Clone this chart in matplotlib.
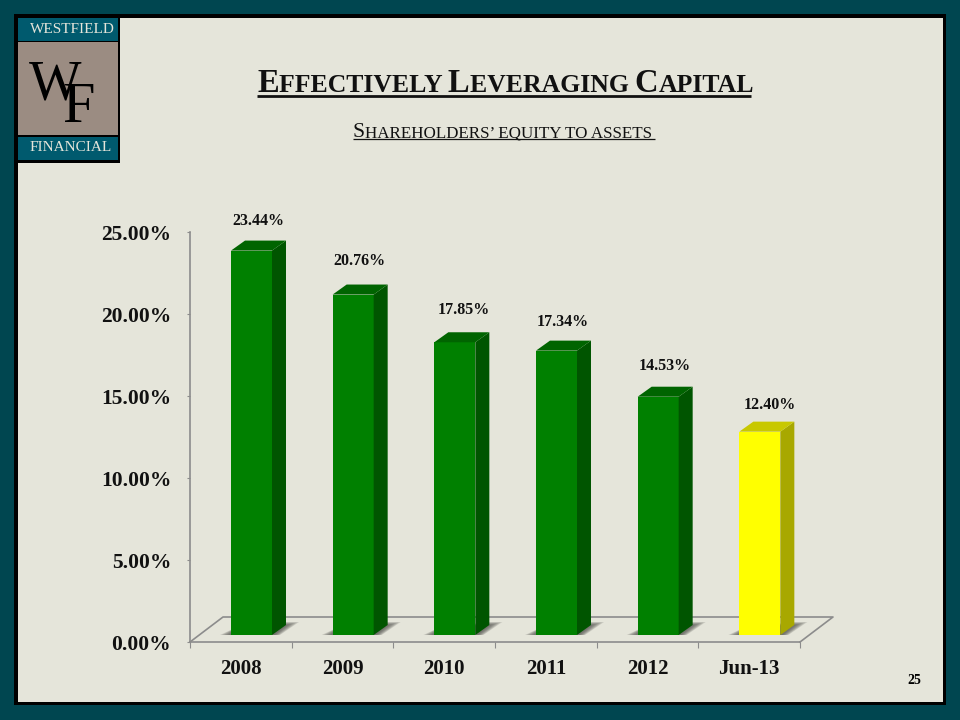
import matplotlib
matplotlib.use('Agg')
import matplotlib.pyplot as plt
from matplotlib.patches import Rectangle, Polygon

plt.rcParams['font.family'] = ['Liberation Serif', 'DejaVu Serif']

categories = ['2008', '2009', '2010', '2011', '2012', 'Jun-13']
values = [23.44, 20.76, 17.85, 17.34, 14.53, 12.40]
labels = ['23.44%', '20.76%', '17.85%', '17.34%', '14.53%', '12.40%']
ytick_vals = [0, 5, 10, 15, 20, 25]
ytick_labels = ['0.00%', '5.00%', '10.00%', '15.00%', '20.00%', '25.00%']

TEAL = '#004650'
PANEL = '#E5E5DA'
GREY = '#8C8C8C'

# pixels per data unit, the plot box is 610 x 410 px
PX = 610 / 6
PY = 410 / 25

fig = plt.figure(figsize=(9.6, 7.2), dpi=100, facecolor=TEAL)

# page furniture, in pixel coords
bg = fig.add_axes([0, 0, 1, 1])
bg.set_xlim(0, 960)
bg.set_ylim(720, 0)
bg.axis('off')
bg.add_patch(Rectangle((14, 14), 932, 691, fc='black', ec='none'))
bg.add_patch(Rectangle((18, 18), 925, 684, fc=PANEL, ec='none'))
bg.add_patch(Rectangle((14, 14), 106, 149, fc='black', ec='none'))
bg.add_patch(Rectangle((18, 18), 100, 23, fc='#005A6E', ec='none'))
bg.add_patch(Rectangle((18, 42), 100, 93, fc='#9B8C82', ec='none'))
bg.add_patch(Rectangle((18, 137), 100, 23, fc='#005A6E', ec='none'))
bg.text(72.5, 29.5, 'WESTFIELD', color='#E5E5DA', fontsize=11, ha='center', va='center')
bg.text(71, 147.5, 'FINANCIAL', color='#E5E5DA', fontsize=11, ha='center', va='center')
bg.text(55, 100, 'W', color='black', fontsize=40, ha='center', va='baseline')
bg.text(79, 122, 'F', color='black', fontsize=42, ha='center', va='baseline')
bg.text(914, 680, '25', fontsize=10, fontweight='bold', ha='center', va='center')


def small_caps(text, left, right, base, big, small, weight, lw, under):
    # fake small caps, one text per run, then underline the whole width
    r = fig.canvas.get_renderer()
    x = left
    runs = []
    cur = ''
    for c in text:
        if cur and c.isupper() != cur[-1].isupper():
            runs.append(cur)
            cur = ''
        cur += c
    runs.append(cur)
    for run in runs:
        up = run[0].isupper()
        t = bg.text(x, base, run.upper(), fontsize=big if up else small,
                    fontweight=weight, ha='left', va='baseline', color='#111111')
        x += t.get_window_extent(r).width
    bg.plot([left, right], [base + under, base + under], color='#111111', lw=lw, solid_capstyle='butt')


small_caps('Effectively Leveraging Capital', 257, 751, 92, 23.5, 18.5, 'bold', 2, 3.7)
small_caps('Shareholders\u2019 equity to assets', 353, 655, 137, 15.6, 12.25, 'normal', 0.9, 2.2)

# chart
ax = fig.add_axes([190 / 960, 1 - 642 / 720, 610 / 960, 410 / 720])
ax.patch.set_alpha(0)
ax.set_xlim(0, 6)
ax.set_ylim(0, 25)
for s in ['top', 'right']:
    ax.spines[s].set_visible(False)
for s in ['left', 'bottom']:
    ax.spines[s].set_color(GREY)
    ax.spines[s].set_linewidth(1.2)

ax.set_yticks(ytick_vals)
ax.set_yticklabels(ytick_labels, fontsize=15.5, fontweight='bold', color='#111111')
ax.set_xticks(range(7))
ax.set_xticklabels([])
ax.tick_params(axis='y', length=2, color=GREY, pad=11.5)
ax.tick_params(axis='x', length=4, color=GREY)

# floor of the fake 3d box
dx_floor = 33 / PX
dy_floor = 25 / PY
ax.plot([0, dx_floor, 6 + dx_floor, 6], [0, dy_floor, dy_floor, 0], color=GREY, lw=1.2, clip_on=False, zorder=1)

# bar geometry in data units
bar_w = 41 / PX
bar_off = 41 / PX
bar_base = 7 / PY
dx = 14 / PX
dy = 10 / PY
nudge_px = [4, 8, 6, 3, 5, 1]
label_dx_px = [6.5, 6, 9, 6, 7, 10]

for i, v in enumerate(values):
    x0 = i + bar_off
    x1 = x0 + bar_w
    top = bar_base + v
    if categories[i] == 'Jun-13':
        front, side, lid = '#FFFF00', '#A8A800', '#C8C800'
    else:
        front, side, lid = '#008000', '#005500', '#006400'
    # soft shadow on the floor, stacked layers shrinking inward
    for k in range(7):
        ax.add_patch(Polygon([(x0 + (-11 + k * 1.6) / PX, bar_base),
                              (x0 + 6 / PX, bar_base + (8 - k * 0.2) / PY),
                              (x1 + 14 / PX, bar_base + (13 - k * 0.5) / PY),
                              (x1 + (27 - k * 2) / PX, bar_base + (13 - k * 0.5) / PY),
                              (x1 + (8 - k) / PX, bar_base)],
                             fc='#50504C', ec='none', alpha=0.18, clip_on=False, zorder=2))
    ax.bar(x0 + bar_w / 2, v, bar_w, bottom=bar_base, color=front, zorder=3)
    ax.add_patch(Polygon([(x1, bar_base), (x1 + dx, bar_base + dy), (x1 + dx, top + dy), (x1, top)],
                         fc=side, ec='none', clip_on=False, zorder=3))
    ax.add_patch(Polygon([(x0, top), (x0 + dx, top + dy), (x1 + dx, top + dy), (x1, top)],
                         fc=lid, ec='none', clip_on=False, zorder=3))
    ax.annotate(labels[i], (x0 + bar_w / 2, top), xytext=(label_dx_px[i] * 0.72, (26 + nudge_px[i]) * 0.72),
                textcoords='offset points', ha='center', va='center', fontsize=11.5, fontweight='bold',
                color='#111111', annotation_clip=False)
    ax.annotate(categories[i], (i + 0.5, 0), xytext=(0, -19.5), textcoords='offset points',
                ha='center', va='center', fontsize=15, fontweight='bold', color='#111111',
                annotation_clip=False)

fig.savefig('out.png', dpi=100, facecolor=fig.get_facecolor())
